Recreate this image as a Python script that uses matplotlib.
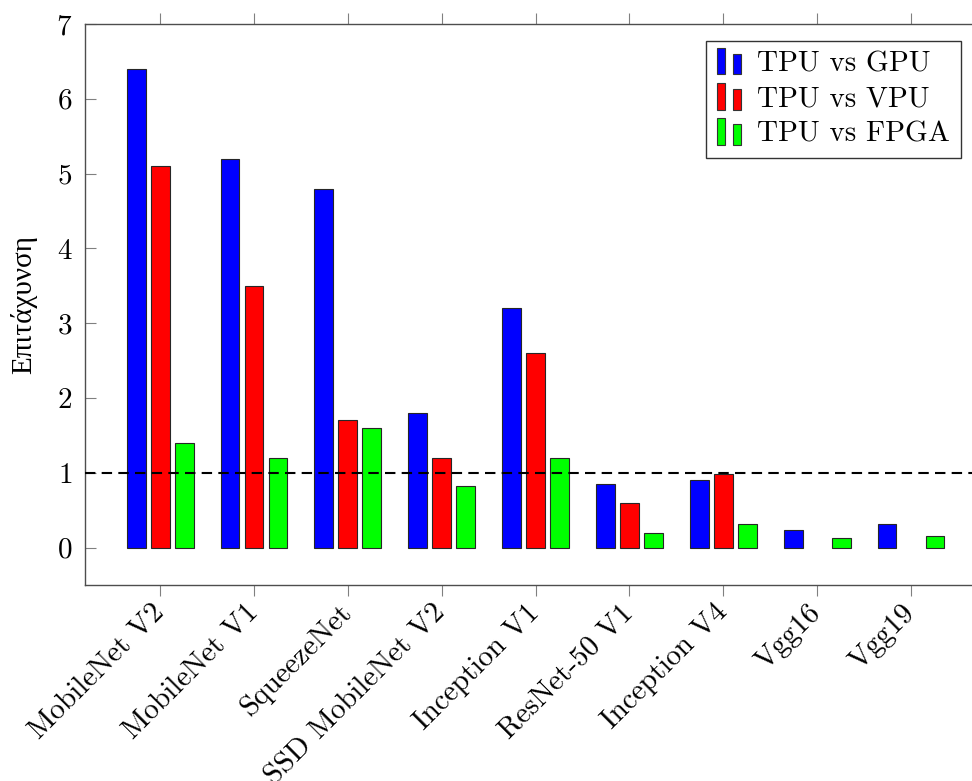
import numpy as np
import matplotlib
matplotlib.use("Agg")
import matplotlib.pyplot as plt
from matplotlib.patches import Rectangle
from matplotlib.legend_handler import HandlerBase

# données
modeles = ["MobileNet V2", "MobileNet V1", "SqueezeNet", "SSD MobileNet V2",
           "Inception V1", "ResNet-50 V1", "Inception V4", "Vgg16", "Vgg19"]
tpu_vs_gpu = [6.4, 5.2, 4.8, 1.8, 3.2, 0.85, 0.9, 0.24, 0.32]
tpu_vs_vpu = [5.1, 3.5, 1.7, 1.2, 2.6, 0.59, 0.99, np.nan, np.nan]
tpu_vs_fpga = [1.4, 1.2, 1.6, 0.82, 1.2, 0.19, 0.32, 0.13, 0.15]
series = ["TPU vs GPU", "TPU vs VPU", "TPU vs FPGA"]
couleurs = ["#0000ff", "#ff0000", "#00ff00"]

plt.rcParams["font.family"] = ["cmr10", "DejaVu Serif"]
plt.rcParams["axes.formatter.use_mathtext"] = True
plt.rcParams["font.size"] = 21


class HandlerDeuxBarres(HandlerBase):  # légende façon pgfplots: deux petites barres
    def create_artists(self, legend, orig_handle, xdescent, ydescent,
                       width, height, fontsize, trans):
        fc = orig_handle.get_facecolor()
        w = width * 0.3
        r1 = Rectangle((-xdescent, -ydescent - height * 0.15), w, height * 1.3,
                       facecolor=fc, edgecolor="0.2", lw=0.8, transform=trans)
        r2 = Rectangle((-xdescent + width * 0.55, -ydescent - height * 0.15), w, height * 1.0,
                       facecolor=fc, edgecolor="0.2", lw=0.8, transform=trans)
        return [r1, r2]


fig = plt.figure(figsize=(9.72, 7.81), dpi=100)
ax = fig.add_axes([0.0875, 0.251, 0.9126, 0.7183])

x = np.arange(len(modeles))
ecart = 0.2556
largeur = 0.2
barres = []
for k, vals in enumerate([tpu_vs_gpu, tpu_vs_vpu, tpu_vs_fpga]):
    b = ax.bar(x + (k - 1) * ecart, vals, largeur, color=couleurs[k],
               edgecolor="0.15", linewidth=0.8, label=series[k], zorder=2)
    barres.append(b.patches[0])

ax.axhline(1, color="black", lw=1.5, ls=(0, (5, 3)), zorder=3)

ax.set_xlim(-0.8, 8.65)
ax.set_ylim(-0.5, 7)
ax.set_yticks(range(8))
ax.set_xticks(x)
ax.set_xticklabels(modeles, rotation=45, ha="right", va="center", rotation_mode="anchor")
ax.tick_params(axis="y", direction="in", length=8, width=0.8, color="0.5", pad=9)
ax.tick_params(axis="x", direction="out", length=8, width=0.8, color="0.5",
               top=True, pad=9)
ax.spines["right"].set_visible(False)
for s in ["left", "bottom", "top"]:
    ax.spines[s].set_color("0.3")
    ax.spines[s].set_linewidth(1.0)
ax.set_ylabel("Επιτάχυνση", family=["Liberation Serif"], labelpad=14)

leg = ax.legend(barres, series, loc="upper right", bbox_to_anchor=(0.987, 0.97),
                handler_map={Rectangle: HandlerDeuxBarres()}, fancybox=False,
                framealpha=1, edgecolor="0.2", handlelength=1.0, handletextpad=0.4,
                borderpad=0.35, labelspacing=0.3, borderaxespad=0)
leg.get_frame().set_linewidth(1.0)

fig.savefig("out.png", dpi=100)
